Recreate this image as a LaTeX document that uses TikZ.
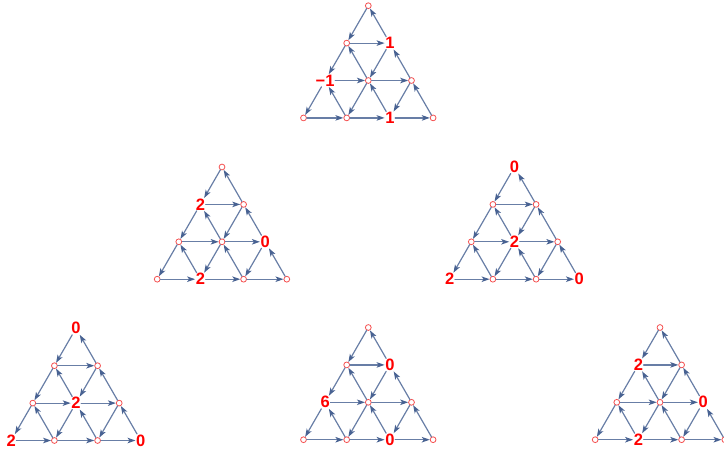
\documentclass[tikz,border=0pt]{standalone}
\usepackage{fontspec}
\setmainfont{Liberation Sans}
\usepackage{ifthen}
\usetikzlibrary{arrows.meta}
\definecolor{edgeblue}{RGB}{104,126,166}
\definecolor{tipblue}{RGB}{72,98,146}
\definecolor{vertred}{RGB}{245,80,80}
\newcommand{\quiver}[3]{%
\begin{scope}[shift={#2}]
\foreach \i/\j/\lab in {#3}{
\ifthenelse{\equal{\lab}{o}}
{\node[qvert] (#1-\i-\j) at ({(\j-\i/2)*43.2},{\i*37.4}) {};}
{\node[qlab] (#1-\i-\j) at ({(\j-\i/2)*43.2},{\i*37.4}) {\lab};}
}
\foreach \i in {0,1,2}{
\foreach \j in {0,...,\i}{
\pgfmathtruncatemacro{\ni}{\i+1}
\pgfmathtruncatemacro{\nj}{\j+1}
\draw[qarrow] (#1-\i-\j) -- (#1-\ni-\j);
\draw[qarrow] (#1-\ni-\nj) -- (#1-\i-\j);
\draw[qarrow] (#1-\ni-\j) -- (#1-\ni-\nj);
}
}
\end{scope}}

\begin{document}
\begin{tikzpicture}[x=1pt,y=-1pt,line cap=round,
qvert/.style={circle,draw=vertred,fill=white,line width=0.8pt,inner sep=0pt,minimum size=5.8pt},
qlab/.style={text=red,font=\bfseries\fontsize{16.5}{16.5}\selectfont,inner sep=0.5pt},
qarrow/.style={draw=edgeblue,line width=1.2pt,-{Stealth[length=8pt,width=5.5pt,inset=2pt,fill=tipblue,color=tipblue]}}]
\useasboundingbox (0,0) rectangle (724,451);
\quiver{ta}{(368.3,5.7)}{0/0/o,1/0/o,1/1/1,2/0/−1,2/1/o,2/2/o,3/0/o,3/1/o,3/2/1,3/3/o}
\quiver{tb}{(222,167)}{0/0/o,1/0/2,1/1/o,2/0/o,2/1/o,2/2/0,3/0/o,3/1/2,3/2/o,3/3/o}
\quiver{tc}{(514.5,167)}{0/0/0,1/0/o,1/1/o,2/0/o,2/1/2,2/2/o,3/0/2,3/1/o,3/2/o,3/3/0}
\quiver{td}{(76,328.3)}{0/0/0,1/0/o,1/1/o,2/0/o,2/1/2,2/2/o,3/0/2,3/1/o,3/2/o,3/3/0}
\quiver{te}{(368.3,327.5)}{0/0/o,1/0/o,1/1/0,2/0/6,2/1/o,2/2/o,3/0/o,3/1/o,3/2/0,3/3/o}
\quiver{tf}{(660,327.5)}{0/0/o,1/0/2,1/1/o,2/0/o,2/1/o,2/2/0,3/0/o,3/1/2,3/2/o,3/3/o}
\end{tikzpicture}
\end{document}
